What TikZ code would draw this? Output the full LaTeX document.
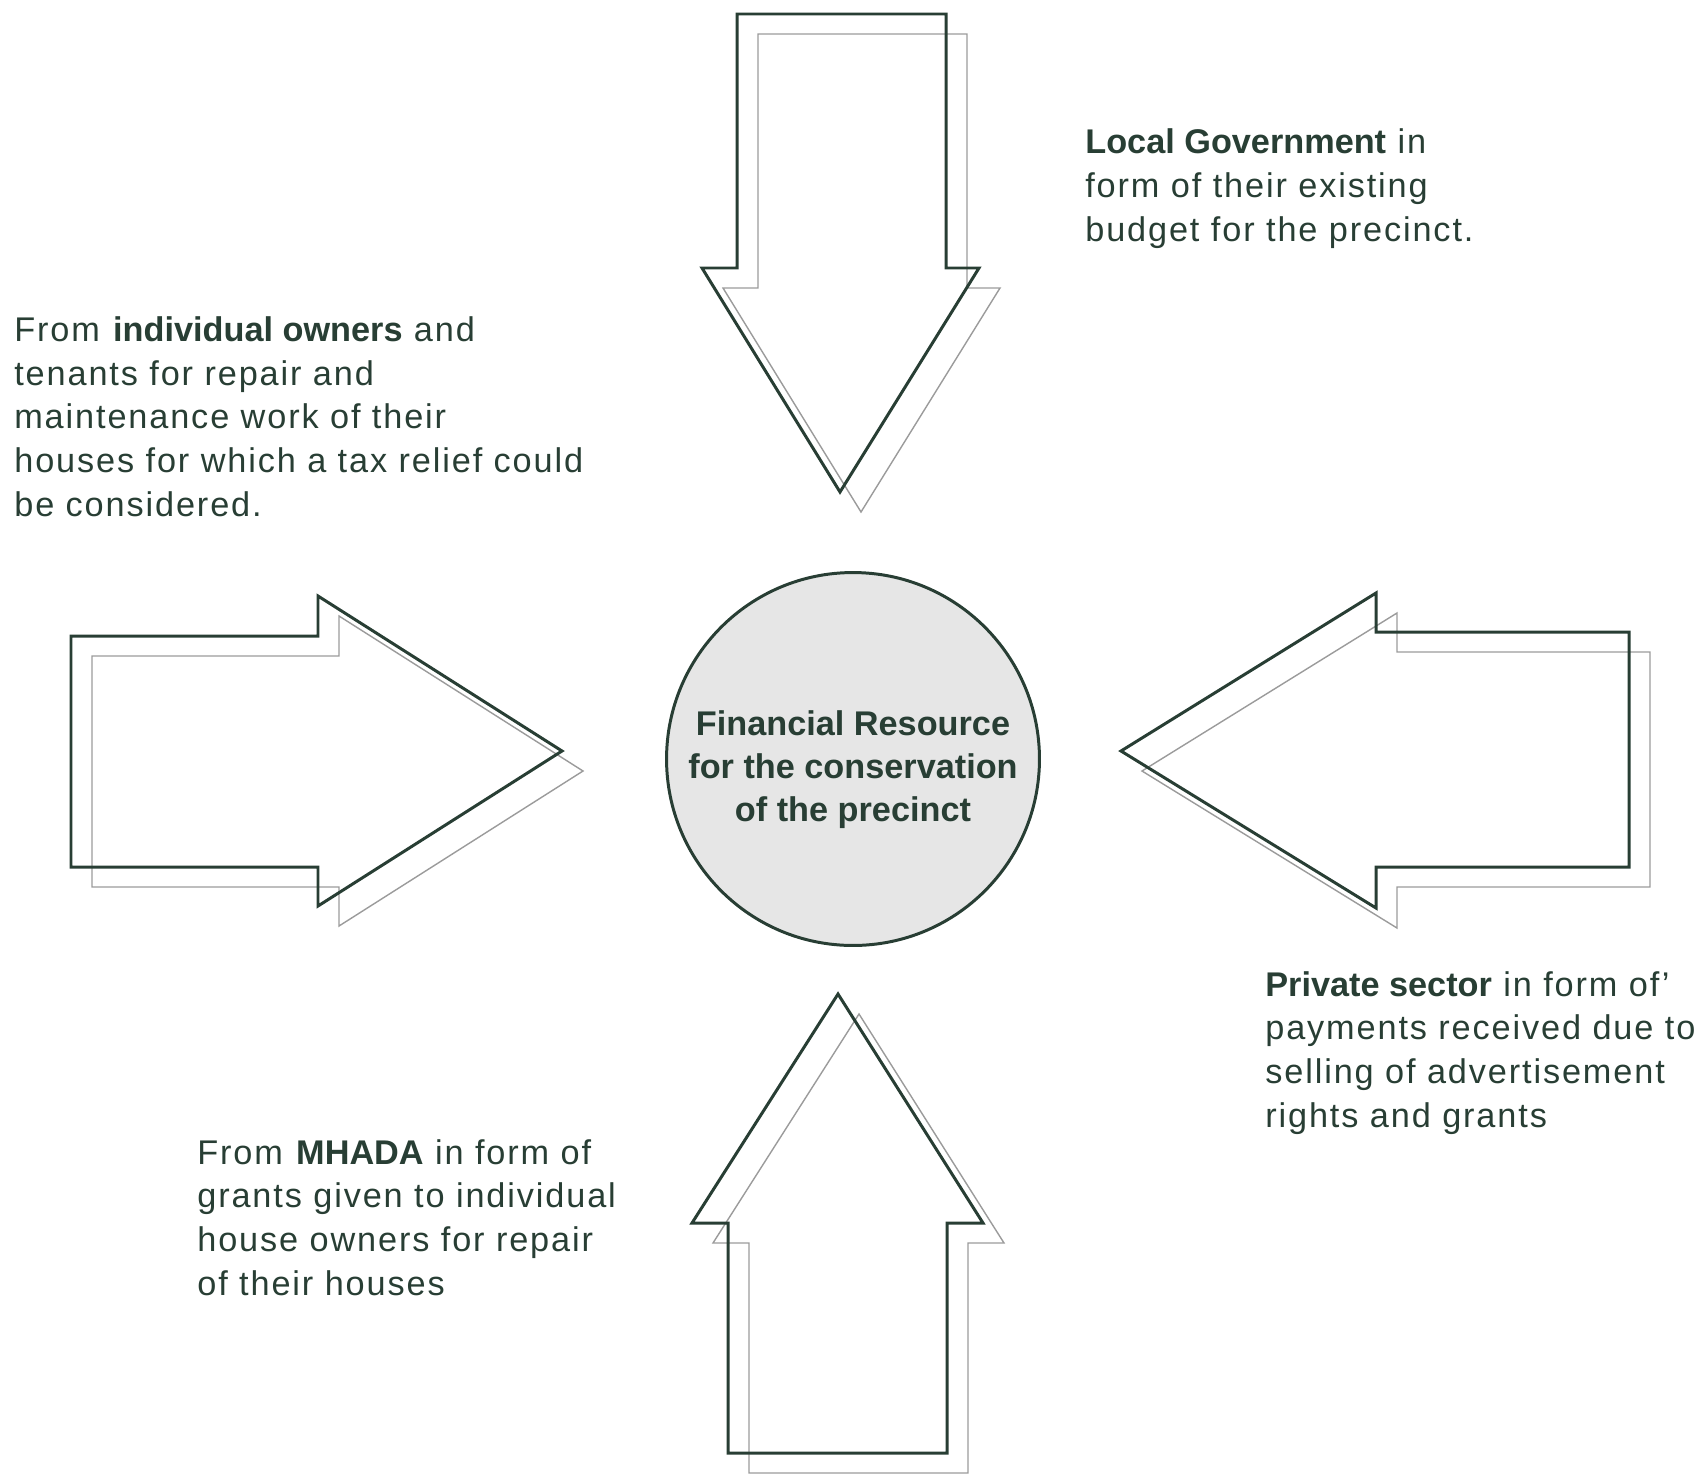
\documentclass[tikz,border=0pt]{standalone}
\usepackage{fontspec}
\setmainfont{Liberation Sans}
\newfontfamily\notefont{Liberation Sans}[LetterSpace=5.5, BoldFeatures={LetterSpace=0}]
\definecolor{inkgreen}{RGB}{40,62,52}
\definecolor{shadowgrey}{RGB}{155,155,155}
\definecolor{discgrey}{RGB}{230,230,230}
\tikzset{
  blockarrow/.style={draw=inkgreen, line width=1.7pt, line join=miter},
  arrowshadow/.style={draw=shadowgrey, line width=0.8pt, shift={(21,20)}},
  note/.style={anchor=base west, align=left, inner sep=0pt, text=inkgreen,
    font=\notefont\fontsize{19.5}{24.8}\selectfont},
}

\begin{document}
\begin{tikzpicture}[x=0.02cm, y=-0.02cm]
  \useasboundingbox (0,0) rectangle (1706,1474);

  % Ortadaki daire
  \node[circle, minimum size=7.46cm, inner sep=0pt, draw=inkgreen, line width=1.7pt,
    fill=discgrey] (disc) at (853,759) {};
  \node[text=inkgreen, align=center, inner sep=0pt,
    font=\bfseries\fontsize{19.5}{24.5}\selectfont] (disclabel)
    at ([yshift=-0.22cm]disc.center)
    {Financial Resource\\for the conservation\\of the precinct};

  % Üst ok
  \draw[arrowshadow] (737,14) -- (946,14) -- (946,268) -- (979,268) -- (840,492) -- (702,268) -- (737,268) -- cycle;
  \draw[blockarrow] (737,14) -- (946,14) -- (946,268) -- (979,268) -- (840,492) -- (702,268) -- (737,268) -- cycle;

  % Sol ok
  \draw[arrowshadow] (71,636) -- (318,636) -- (318,596) -- (562,751) -- (318,906) -- (318,867) -- (71,867) -- cycle;
  \draw[blockarrow] (71,636) -- (318,636) -- (318,596) -- (562,751) -- (318,906) -- (318,867) -- (71,867) -- cycle;

  % Sağ ok
  \draw[arrowshadow] (1629,632) -- (1376,632) -- (1376,593) -- (1121,751) -- (1376,908) -- (1376,867) -- (1629,867) -- cycle;
  \draw[blockarrow] (1629,632) -- (1376,632) -- (1376,593) -- (1121,751) -- (1376,908) -- (1376,867) -- (1629,867) -- cycle;

  % Alt ok
  \draw[arrowshadow] (728,1453) -- (728,1223) -- (692,1223) -- (838,994) -- (983,1223) -- (947,1223) -- (947,1453) -- cycle;
  \draw[blockarrow] (728,1453) -- (728,1223) -- (692,1223) -- (838,994) -- (983,1223) -- (947,1223) -- (947,1453) -- cycle;

  % Açıklamalar (son satırın taban çizgisine göre)
  \node[note] (govnote) at (1085,241)
    {\textbf{Local Government} in\\form of their existing\\budget for the precinct.};
  \node[note] (ownersnote) at (14,516)
    {From \textbf{individual owners} and\\tenants for repair and\\maintenance work of their\\houses for which a tax relief could\\be considered.};
  \node[note] (privatenote) at (1265,1127)
    {\textbf{Private sector} in form of’\\payments received due to\\selling of advertisement\\rights and grants};
  \node[note] (mhadanote) at (197,1295)
    {From \textbf{MHADA} in form of\\grants given to individual\\house owners for repair\\of their houses};
\end{tikzpicture}
\end{document}
